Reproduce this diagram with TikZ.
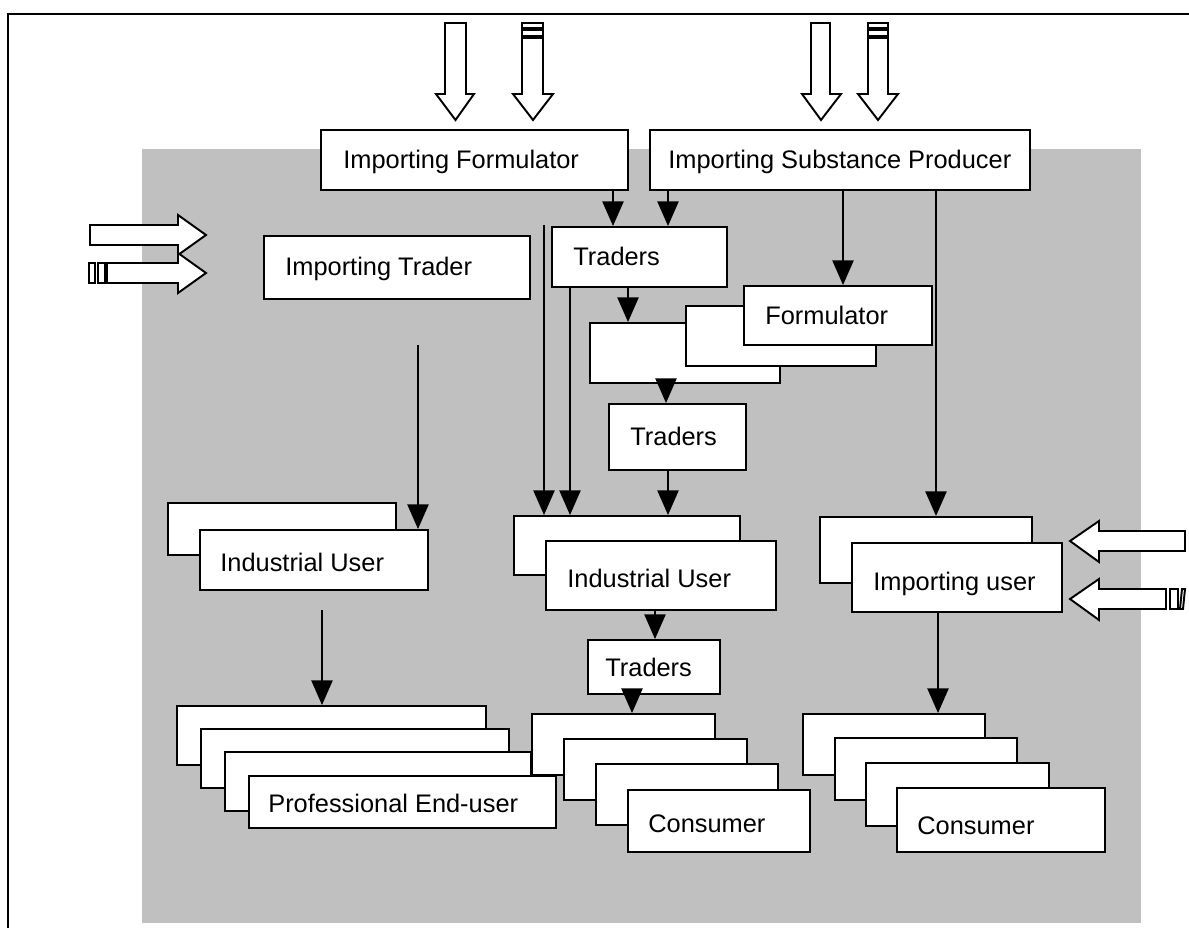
\documentclass[tikz,border=0pt]{standalone}
\usepackage{fontspec}
\setmainfont{Liberation Sans}
\usetikzlibrary{arrows.meta,fit}
\definecolor{bg}{RGB}{192,192,192}
\begin{document}
\begin{tikzpicture}[x=0.02cm,y=-0.02cm,
  box/.style={draw, fill=white, line width=1.1pt, inner sep=0pt},
  lbl/.style={anchor=base west, inner sep=0pt, font=\fontsize{14.45pt}{17pt}\selectfont},
  arr/.style={line width=1.1pt, -{Triangle[length=14pt,width=12pt]}},
  blk/.style={draw, fill=white, line width=1.1pt, line join=miter}]
\useasboundingbox (0,0) rectangle (1189,928);
% frame and background
\draw[line width=1.3pt] (8,928) -- (8,14) -- (1189,14);
\fill[bg] (142,149) rectangle (1141,923);
% top boxes
\node[box, fit={(321,130) (628,190)}] (IF) {};
\node[lbl] (IFt) at (343,169) {Importing Formulator};
\node[box, fit={(650,130) (1030,190)}] (ISP) {};
\node[lbl] (ISPt) at (668,169) {Importing Substance Producer};
\node[box, fit={(264,236) (530,299)}] (IT) {};
\node[lbl] (ITt) at (285,276) {Importing Trader};
\node[box, fit={(552,227) (727,287)}] (TR1) {};
\node[lbl] (TR1t) at (573,266) {Traders};
% formulator stack
\node[box, fit={(590,323) (780,383)}] (F1) {};
\node[box, fit={(686,306) (876,366)}] (F2) {};
\node[box, fit={(744,286) (932,345)}] (F3) {};
\node[lbl] (F3t) at (765,325) {Formulator};
\node[box, fit={(609,404) (746,470)}] (TR2) {};
\node[lbl] (TR2t) at (630,446) {Traders};
% industrial users
\node[box, fit={(168,503) (396,555)}] (L1) {};
\node[box, fit={(200,530) (428,590)}] (L2) {};
\node[lbl] (L2t) at (220,571) {Industrial User};
\node[box, fit={(514,516) (740,575)}] (M1) {};
\node[box, fit={(546,541) (776,610)}] (M2) {};
\node[lbl] (M2t) at (567,587) {Industrial User};
\node[box, fit={(820,517) (1032,583)}] (U1) {};
\node[box, fit={(852,543) (1062,612)}] (U2) {};
\node[lbl] (U2t) at (873,590) {Importing user};
\node[box, fit={(588,640) (720,694)}] (TR3) {};
\node[lbl] (TR3t) at (605,676) {Traders};
% professional end-user stack
\node[box, fit={(177,706) (486,765)}] (P1) {};
\node[box, fit={(201,729) (509,788)}] (P2) {};
\node[box, fit={(225,752) (531,811)}] (P3) {};
\node[box, fit={(249,776) (556,828)}] (P4) {};
\node[lbl] (P4t) at (268,812) {Professional End-user};
% consumer stacks
\node[box, fit={(532,714) (715,775)}] (C1) {};
\node[box, fit={(564,739) (747,800)}] (C2) {};
\node[box, fit={(596,764) (778,825)}] (C3) {};
\node[box, fit={(628,790) (810,852)}] (C4) {};
\node[lbl] (C4t) at (648,832) {Consumer};
\node[box, fit={(803,714) (985,775)}] (D1) {};
\node[box, fit={(835,738) (1017,800)}] (D2) {};
\node[box, fit={(866,763) (1049,826)}] (D3) {};
\node[box, fit={(897,788) (1105,852)}] (D4) {};
\node[lbl] (D4t) at (917,834) {Consumer};
% free start points
\coordinate (s1) at (418,345);
\coordinate (s2) at (544,225);
\coordinate (s3) at (322,610);
% connectors
\draw[arr] (s1) -- (418,0 |- L2.north);
\draw[arr] (613,0 |- IF.south) -- (613,0 |- TR1.north);
\draw[arr] (668,0 |- ISP.south) -- (668,0 |- TR1.north);
\draw[arr] (843,0 |- ISP.south) -- (843,0 |- F3.north);
\draw[arr] (936,0 |- ISP.south) -- (936,0 |- U1.north);
\draw[arr] (s2) -- (544,0 |- M1.north);
\draw[arr] (570,0 |- TR1.south) -- (570,0 |- M1.north);
\draw[arr] (628,0 |- TR1.south) -- (628,0 |- F1.north);
\draw[arr] (666,0 |- F1.south) -- (666,0 |- TR2.north);
\draw[arr] (668,0 |- TR2.south) -- (668,0 |- M1.north);
\draw[arr] (655,0 |- M2.south) -- (655,0 |- TR3.north);
\draw[arr] (632,0 |- TR3.south) -- (632,0 |- C1.north);
\draw[arr] (s3) -- (322,0 |- P1.north);
\draw[arr] (938,0 |- U2.south) -- (938,0 |- D1.north);
% block arrows (top)
\draw[blk] (445,23) -- (445,94) -- (436,94) -- (455.5,120) -- (474,94) -- (466,94) -- (466,23) -- cycle;
\draw[blk] (522,23) rectangle (543,28);
\draw[blk] (522,30) rectangle (543,36);
\draw[blk] (522,38) -- (522,94) -- (513,94) -- (533,120) -- (553,94) -- (543,94) -- (543,38) -- cycle;
\draw[blk] (811,23) -- (811,94) -- (802,94) -- (821,120) -- (841,94) -- (830,94) -- (830,23) -- cycle;
\draw[blk] (868,23) rectangle (888,28);
\draw[blk] (868,30) rectangle (888,36);
\draw[blk] (868,38) -- (868,94) -- (858,94) -- (878,120) -- (898,94) -- (888,94) -- (888,38) -- cycle;
% block arrows (left)
\draw[blk] (90,225) -- (178,225) -- (178,215) -- (206,235) -- (178,255) -- (178,245) -- (90,245) -- cycle;
\draw[blk] (89,263) rectangle (95,283);
\draw[blk] (98,263) rectangle (105,283);
\draw[blk] (107,263) -- (178,263) -- (178,253) -- (206,273) -- (178,293) -- (178,283) -- (107,283) -- cycle;
% block arrows (right)
\draw[blk] (1185,531) -- (1099,531) -- (1099,521) -- (1070,541) -- (1099,562) -- (1099,551) -- (1185,551) -- cycle;
\draw[blk] (1166,589) -- (1099,589) -- (1099,579) -- (1070,599) -- (1099,620) -- (1099,609) -- (1166,609) -- cycle;
\draw[blk] (1170,589) rectangle (1178,609);
\draw[blk] (1182,589) -- (1185,589) -- (1183,609) -- (1180,609) -- cycle;
\end{tikzpicture}
\end{document}
